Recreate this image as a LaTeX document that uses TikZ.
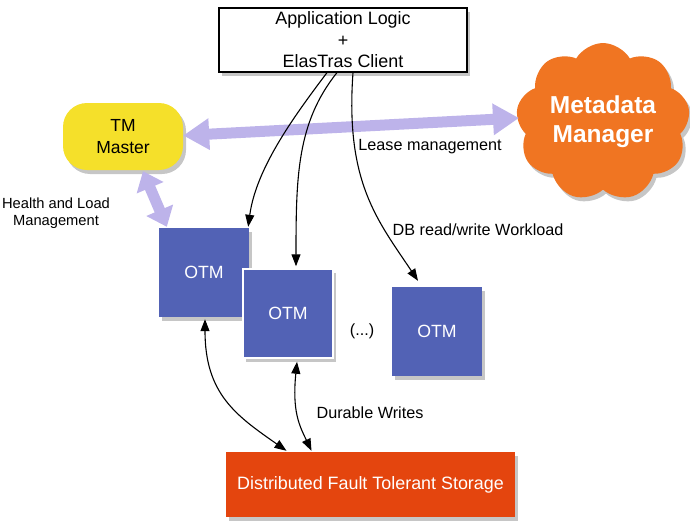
\documentclass[tikz,border=0pt]{standalone}
\usepackage{fontspec}
\setmainfont{Liberation Sans}
\usetikzlibrary{arrows.meta,shapes.symbols,shadows,calc}
\definecolor{otmblue}{HTML}{5262B5}
\definecolor{tmyellow}{HTML}{F5E02A}
\definecolor{cloudorange}{HTML}{F07522}
\definecolor{storered}{HTML}{E4450E}
\definecolor{lavender}{HTML}{BDB3EA}
\tikzset{
  shad/.style={drop shadow={opacity=0.45,shadow xshift=3pt,shadow yshift=-4pt}},
  otmbox/.style={shad,fill=otmblue,minimum width=90pt,minimum height=89pt,text=white,font=\fontsize{17.7}{20}\selectfont,inner sep=0pt},
  lbl/.style={font=\fontsize{16.2}{18}\selectfont,align=center,inner sep=0pt},
  conn/.style={black,line width=1.1pt,-{Triangle[length=12pt,width=9pt]}},
  bconn/.style={black,line width=1.1pt,{Triangle[length=12pt,width=9pt]}-{Triangle[length=12pt,width=9pt]}},
  lav/.style={lavender,line width=11pt,{Triangle[length=26pt,width=30pt]}-{Triangle[length=26pt,width=30pt]}},
  lavs/.style={lavender,line width=11pt,{Triangle[length=18pt,width=28pt]}-{Triangle[length=18pt,width=28pt]}}
}
\begin{document}
\begin{tikzpicture}[x=1pt,y=-1pt]
\useasboundingbox (0,0) rectangle (690,527);
\begin{scope}
\clip (0,0) rectangle (690,527);
% nodes
\node[shad,draw=black,line width=1.2pt,fill=white,minimum width=248pt,minimum height=64pt,align=center,inner sep=0pt,font=\fontsize{17.9}{21.5}\selectfont] (top) at (343,40) {Application Logic\\+\\ElasTras Client};
\node[shad,fill=tmyellow,rounded corners=24pt,minimum width=120pt,minimum height=67pt,align=center,inner sep=0pt,font=\fontsize{17.5}{21.5}\selectfont] (tm) at (123,136.5) {TM\\Master};
\node[shad,cloud,cloud puffs=9,cloud puff arc=120,aspect=1.1,fill=cloudorange,minimum width=174pt,minimum height=152pt,align=center,inner sep=0pt,text=white,font=\fontsize{24.5}{29}\selectfont\bfseries] (meta) at (603,122) {Metadata\\Manager};
\node[otmbox] (otm1) at (204,272.5) {OTM};
\node[otmbox,draw=white,line width=1.5pt] (otm2) at (288,313.5) {OTM};
\node[otmbox] (otm3) at (437,331.5) {OTM};
\node[shad,fill=storered,minimum width=289pt,minimum height=65pt,text=white,inner sep=0pt,font=\fontsize{17.9}{20}\selectfont] (store) at (370.5,484.5) {Distributed Fault Tolerant Storage};
% labels
\node[lbl,font=\fontsize{14.7}{17}\selectfont] (hl) at (56,213) {Health and Load\\Management};
\node[lbl] (lease) at (430,147) {Lease management};
\node[lbl] (db) at (478,230) {DB read/write Workload};
\node[lbl] (dw) at (370,413) {Durable Writes};
\node[lbl] (dots) at (362,331) {(...)};
% coordinates
\coordinate (mw) at ($(meta.center)+(-84,-4)$);
\coordinate (tme) at ($(tm.east)+(0,-1)$);
\coordinate (tms) at ($(tm.south)+(20,1)$);
\coordinate (o1n) at ($(otm1.north west)+(8,-1)$);
% lavender arrows
\draw[lav] (tme) -- (mw);
\draw[lavs] (tms) -- (o1n);
% black connectors
\draw[conn] ([xshift=-16pt]top.south) .. controls +(-30,40) and +(8,-60) .. ([xshift=-1pt,yshift=1pt]otm1.north east);
\draw[conn] ([xshift=-6pt]top.south) .. controls +(-40,50) and +(0,-90) .. ([xshift=8pt,yshift=2pt]otm2.north);
\draw[conn] ([xshift=10pt]top.south) .. controls +(-8,110) and +(-40,-60) .. ([xshift=-19pt,yshift=6pt]otm3.north);
\draw[bconn] ([xshift=1pt,yshift=-2pt]otm1.south) .. controls +(0,75) and +(-50,-35) .. ([xshift=-84pt,yshift=1pt]store.north);
\draw[bconn] ([xshift=9pt,yshift=-3pt]otm2.south) .. controls +(-5,50) and +(-12,-25) .. ([xshift=-59pt,yshift=1pt]store.north);
\end{scope}
\end{tikzpicture}
\end{document}
